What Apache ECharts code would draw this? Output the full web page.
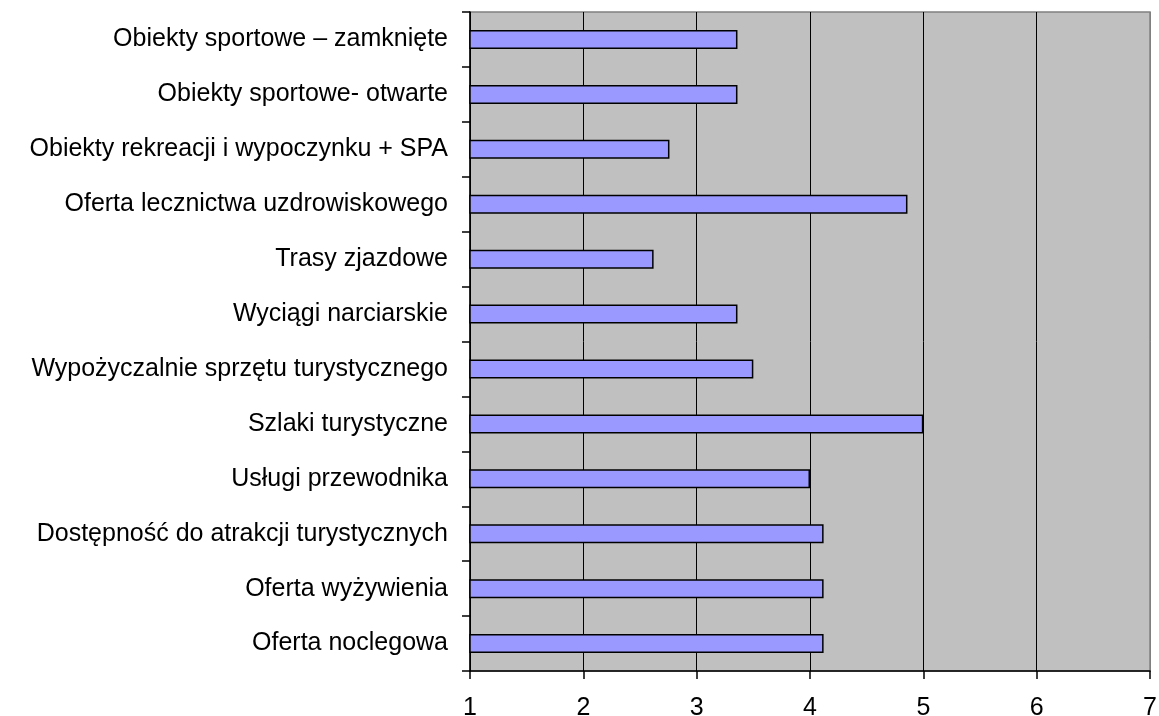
<!DOCTYPE html>
<html>
<head>
<meta charset="utf-8">
<script src="https://cdn.jsdelivr.net/npm/echarts@6/dist/echarts.min.js"></script>
<style>
  html, body { margin: 0; padding: 0; background: #fff; }
  #chart { width: 1159px; height: 716px; }
</style>
</head>
<body>
<div id="chart"></div>
<script>
// kategorie od góry do dołu
const categories = [
  'Obiekty sportowe – zamknięte',
  'Obiekty sportowe- otwarte',
  'Obiekty rekreacji i wypoczynku + SPA',
  'Oferta lecznictwa uzdrowiskowego',
  'Trasy zjazdowe',
  'Wyciągi narciarskie',
  'Wypożyczalnie sprzętu turystycznego',
  'Szlaki turystyczne',
  'Usługi przewodnika',
  'Dostępność do atrakcji turystycznych',
  'Oferta wyżywienia',
  'Oferta noclegowa'
]
const values = [3.36, 3.36, 2.76, 4.86, 2.62, 3.36, 3.5, 5.0, 4.0, 4.12, 4.12, 4.12]
const xTicks = [1, 2, 3, 4, 5, 6, 7]

const mChart = echarts.init(document.getElementById('chart'))

const font = 'Liberation Sans, Arial, sans-serif'

const options = {
  animation: false,
  grid: {
    left: 470,
    right: 9,
    top: 12,
    bottom: 45,
    outerBoundsMode: 'none',
    show: true,
    backgroundColor: '#C0C0C0',
    borderColor: '#808080',
    borderWidth: 1.5
  },
  xAxis: {
    type: 'value',
    min: xTicks[0],
    max: xTicks[xTicks.length - 1],
    interval: 1,
    axisLine: { show: true, lineStyle: { color: '#000', width: 1.5 } },
    axisTick: { show: true, length: 8, lineStyle: { color: '#000', width: 1.5 } },
    axisLabel: { color: '#000', fontSize: 25, fontFamily: font, margin: 25 },
    splitLine: {
      show: true,
      // ostatnia linia (7) zlewa się z szarą ramką
      lineStyle: { color: ['#000', '#000', '#000', '#000', '#000', '#000', '#808080'], width: 1 }
    }
  },
  yAxis: {
    type: 'category',
    data: categories,
    inverse: true,
    axisLine: { show: true, lineStyle: { color: '#000', width: 1.5 } },
    axisTick: { show: true, length: 8, lineStyle: { color: '#000', width: 1.5 } },
    axisLabel: { color: '#000', fontSize: 25, fontFamily: font, margin: 22 },
    splitLine: { show: false }
  },
  series: [{
    type: 'bar',
    data: values,
    startValue: 1,
    barWidth: 19,
    itemStyle: {
      color: '#9999FF',
      borderColor: '#000',
      borderWidth: 1.5
    }
  }]
}
mChart.setOption(options)
</script>
</body>
</html>
